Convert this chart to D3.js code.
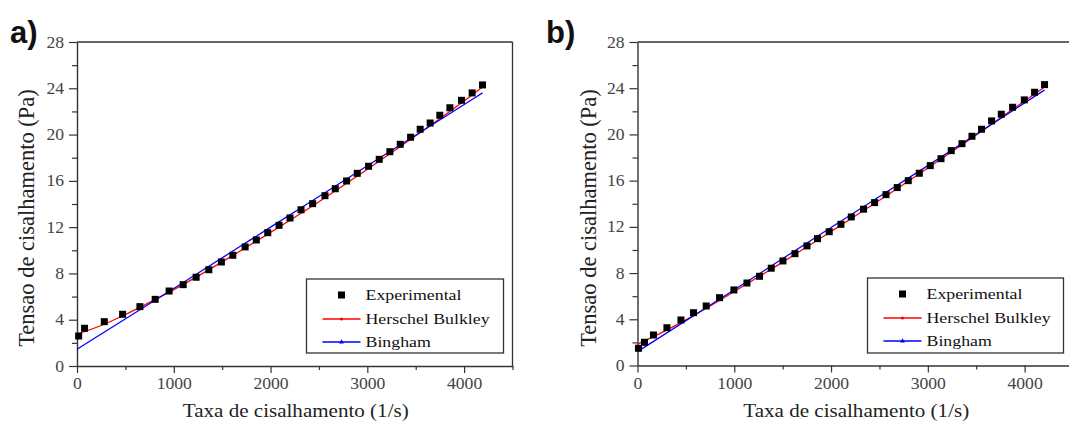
<!DOCTYPE html>
<html>
<head>
<meta charset="utf-8">
<script src="https://cdn.jsdelivr.net/npm/d3@7"></script>
<style>
  body { margin: 0; background: #fff; }
  svg { display: block; }
  .serif { font-family: "Liberation Serif", "Times New Roman", serif; }
</style>
</head>
<body>
<svg id="chart" width="1069" height="421"></svg>
<script>
// Axis ticks and legend text
const xTicks = [0, 1000, 2000, 3000, 4000];
const xMinorTicks = [500, 1500, 2500, 3500, 4500];
const yTicks = [0, 4, 8, 12, 16, 20, 24, 28];
const yMinorTicks = [2, 6, 10, 14, 18, 22, 26];
const legendLabels = ["Experimental", "Herschel Bulkley", "Bingham"];
const xTitle = "Taxa de cisalhamento (1/s)";
const yTitle = "Tensao de cisalhamento (Pa)";

// Panel a) — measured points
const expRateA = [17, 78, 282, 471, 650, 808, 952, 1097, 1231, 1362, 1492, 1610, 1737, 1853, 1971, 2088, 2201, 2315, 2435, 2562, 2669, 2786, 2896, 3013, 3123, 3233, 3340, 3447, 3546, 3649, 3749, 3853, 3973, 4083, 4190];
const expStressA = [2.59, 3.26, 3.83, 4.47, 5.13, 5.76, 6.48, 7.03, 7.67, 8.32, 8.99, 9.57, 10.29, 10.89, 11.52, 12.16, 12.79, 13.5, 14.03, 14.72, 15.32, 15.99, 16.65, 17.26, 17.86, 18.52, 19.16, 19.77, 20.46, 21.0, 21.67, 22.32, 22.96, 23.6, 24.29];
// Panel a) — model curves
const hbRateA = [0, 250, 500, 750, 1000, 1500, 2000, 2500, 3000, 3500, 4000, 4190];
const hbStressA = [2.75, 3.5, 4.45, 5.5, 6.6, 9.0, 11.55, 14.2, 17.0, 19.9, 22.9, 24.1];
const binghamRateA = [0, 1000, 2000, 3000, 4190];
const binghamStressA = [1.45, 6.7, 12.0, 17.3, 23.6];

// Panel b) — measured points
const expRateB = [10, 72, 165, 304, 449, 579, 710, 848, 996, 1131, 1261, 1382, 1503, 1627, 1751, 1860, 1981, 2102, 2209, 2336, 2450, 2568, 2684, 2798, 2912, 3025, 3136, 3242, 3353, 3456, 3555, 3659, 3759, 3876, 3997, 4103, 4206];
const expStressB = [1.49, 2.01, 2.64, 3.27, 3.94, 4.57, 5.15, 5.87, 6.54, 7.14, 7.72, 8.42, 9.05, 9.68, 10.35, 10.98, 11.58, 12.22, 12.86, 13.53, 14.1, 14.79, 15.4, 16.0, 16.64, 17.3, 17.9, 18.6, 19.2, 19.84, 20.45, 21.17, 21.75, 22.35, 22.99, 23.65, 24.31];
// Panel b) — model curves
const hbRateB = [0, 250, 500, 750, 1000, 1500, 2000, 2500, 3000, 3500, 4000, 4206];
const hbStressB = [1.85, 2.85, 3.95, 5.15, 6.4, 8.95, 11.6, 14.3, 17.1, 19.95, 22.9, 24.1];
const binghamRateB = [0, 1000, 2000, 3000, 4206];
const binghamStressB = [1.2, 6.55, 11.95, 17.3, 23.85];

const zip = (xs, ys) => xs.map((x, i) => ({ x, y: ys[i] }));

const panels = [
  { tag: "a)", tagX: 10, left: 77, right: 512.5, top: 42, bottom: 366, yTitleX: 27,
    legend: { x: 306.5, y: 279, w: 197, h: 74 },
    exp: zip(expRateA, expStressA), hb: zip(hbRateA, hbStressA), bing: zip(binghamRateA, binghamStressA) },
  { tag: "b)", tagX: 546, left: 637.5, right: 1073, top: 42, bottom: 365.5, yTitleX: 589,
    legend: { x: 867.5, y: 278, w: 196, h: 75 },
    exp: zip(expRateB, expStressB), hb: zip(hbRateB, hbStressB), bing: zip(binghamRateB, binghamStressB) }
];

const svg = d3.select("#chart");
const axisColor = "#333";

panels.forEach(p => {
  const g = svg.append("g");
  const x = d3.scaleLinear().domain([0, 4500]).range([p.left, p.right]);
  const y = d3.scaleLinear().domain([0, 28]).range([p.bottom, p.top]);

  // Panel tag
  g.append("text")
    .attr("x", p.tagX).attr("y", 43)
    .style("font-family", "'Liberation Sans', Arial, sans-serif")
    .attr("font-weight", "bold").attr("font-size", 31)
    .attr("fill", "#111")
    .text(p.tag);

  // Frame: top and right edges
  g.append("line").attr("x1", x(0)).attr("x2", x(4500)).attr("y1", y(28)).attr("y2", y(28))
    .attr("stroke", axisColor).attr("stroke-width", 1.3);
  g.append("line").attr("x1", x(4500)).attr("x2", x(4500)).attr("y1", y(28)).attr("y2", y(0))
    .attr("stroke", axisColor).attr("stroke-width", 1.3);

  // Minor ticks
  g.append("g").attr("transform", `translate(0,${p.bottom})`)
    .call(d3.axisBottom(x).tickValues(xMinorTicks).tickSize(4).tickFormat(""))
    .call(a => a.select(".domain").remove())
    .call(a => a.selectAll("line").attr("stroke", axisColor).attr("stroke-width", 1.2));
  g.append("g").attr("transform", `translate(${p.left},0)`)
    .call(d3.axisLeft(y).tickValues(yMinorTicks).tickSize(5).tickFormat(""))
    .call(a => a.select(".domain").remove())
    .call(a => a.selectAll("line").attr("stroke", axisColor).attr("stroke-width", 1.2));

  // Major axes
  const xAxis = g.append("g").attr("transform", `translate(0,${p.bottom})`)
    .call(d3.axisBottom(x).tickValues(xTicks).tickSize(7).tickSizeOuter(0).tickPadding(5).tickFormat(d3.format("d")));
  const yAxis = g.append("g").attr("transform", `translate(${p.left},0)`)
    .call(d3.axisLeft(y).tickValues(yTicks).tickSize(8).tickSizeOuter(0).tickPadding(5).tickFormat(d3.format("d")));
  [xAxis, yAxis].forEach(a => {
    a.attr("font-family", null).attr("font-size", null);
    a.select(".domain").attr("stroke", axisColor).attr("stroke-width", 1.4);
    a.selectAll(".tick line").attr("stroke", axisColor).attr("stroke-width", 1.2);
    a.selectAll("text").attr("class", "serif").style("font-size", "16px").attr("fill", "#444");
  });
  xAxis.selectAll("text").attr("transform", "scale(1.1,1)").attr("x", 0);
  yAxis.selectAll("text").attr("transform", "translate(-13,0) scale(1.1,1)").attr("x", 0);

  // Axis titles
  g.append("text").attr("class", "serif")
    .attr("transform", `translate(${(p.left + p.right) / 2 + 1},417) scale(1.17,1)`)
    .attr("text-anchor", "middle")
    .style("font-size", "18px").attr("fill", "#222")
    .text(xTitle);
  g.append("text").attr("class", "serif")
    .attr("transform", `translate(${p.yTitleX + 7},218) rotate(-90)`)
    .attr("text-anchor", "middle")
    .style("font-size", "22.5px").attr("fill", "#222")
    .text(yTitle);

  // Model curves
  const line = d3.line().x(d => x(d.x)).y(d => y(d.y)).curve(d3.curveMonotoneX);
  g.append("path").datum(p.hb).attr("d", line)
    .attr("fill", "none").attr("stroke", "#ff0000").attr("stroke-width", 1.3);
  g.append("path").datum(p.bing).attr("d", line)
    .attr("fill", "none").attr("stroke", "#0000ff").attr("stroke-width", 1.3);

  // Measured points
  const s = 7;
  g.append("g").selectAll("rect").data(p.exp).join("rect")
    .attr("x", d => x(d.x) - s / 2).attr("y", d => y(d.y) - s / 2)
    .attr("width", s).attr("height", s).attr("fill", "#000");

  // Legend
  const L = p.legend;
  const lg = g.append("g").attr("transform", `translate(${L.x},${L.y})`);
  lg.append("rect").attr("width", L.w).attr("height", L.h)
    .attr("fill", "#fff").attr("stroke", axisColor).attr("stroke-width", 1.3);
  const rows = [16, 40, 63];
  lg.append("rect").attr("x", 35 - 3.5).attr("y", rows[0] - 3.5).attr("width", 7).attr("height", 7).attr("fill", "#000");
  lg.append("line").attr("x1", 16).attr("x2", 54).attr("y1", rows[1]).attr("y2", rows[1])
    .attr("stroke", "#ff0000").attr("stroke-width", 1.3);
  lg.append("circle").attr("cx", 35).attr("cy", rows[1]).attr("r", 1.5).attr("fill", "#ff0000");
  lg.append("line").attr("x1", 16).attr("x2", 54).attr("y1", rows[2]).attr("y2", rows[2])
    .attr("stroke", "#0000ff").attr("stroke-width", 1.3);
  lg.append("path").attr("d", d3.symbol(d3.symbolTriangle, 10)()).attr("transform", `translate(35,${rows[2]})`)
    .attr("fill", "#0000ff");
  legendLabels.forEach((t, i) => {
    lg.append("text").attr("class", "serif")
      .attr("transform", `translate(59,${rows[i] + 5}) scale(1.15,1)`)
      .style("font-size", "15.5px").attr("fill", "#111")
      .text(t);
  });
});
</script>
</body>
</html>
